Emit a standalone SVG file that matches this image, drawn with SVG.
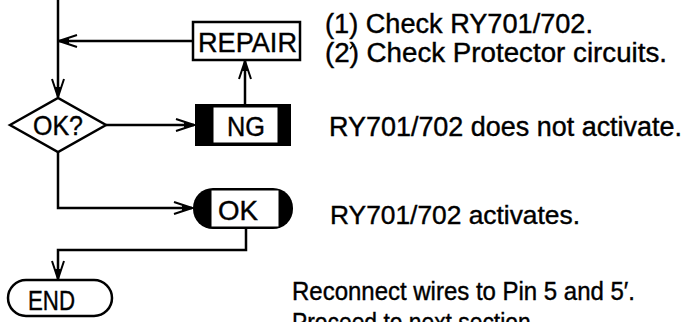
<svg xmlns="http://www.w3.org/2000/svg" width="689" height="322" viewBox="0 0 689 322">
<style>
.ln{fill:none;stroke:#000;stroke-width:2.5}
.box{fill:#fff;stroke:#000;stroke-width:2.5}
.t{font-family:"Liberation Sans",Arial,sans-serif;font-size:27px;fill:#000;stroke:#000;stroke-width:0.4}
.lab{font-family:"Liberation Sans",Arial,sans-serif;font-size:28px;fill:#000;stroke:#000;stroke-width:0.4}
</style>
<defs>
<marker id="ar" viewBox="-20 -8 22 16" refX="0" refY="0" markerWidth="22" markerHeight="16" markerUnits="userSpaceOnUse" orient="auto">
<path d="M-18,-6 L0,0 L-18,6" fill="none" stroke="#000" stroke-width="2"/>
<path d="M0,0 L-10,-3 L-10,3 Z" fill="#000"/>
</marker>
</defs>
<rect width="689" height="322" fill="#fff"/>
<g id="connectors">
<path class="ln" d="M58,0 V97" marker-end="url(#ar)"/>
<path class="ln" d="M193,41 H59" marker-end="url(#ar)"/>
<path class="ln" d="M106,125 H194" marker-end="url(#ar)"/>
<path class="ln" d="M245,104 V61" marker-end="url(#ar)"/>
<path class="ln" d="M58,152 V208 H192" marker-end="url(#ar)"/>
<path class="ln" d="M246,229 V250 H58 V279" marker-end="url(#ar)"/>
</g>
<g id="repair">
<rect class="box" x="193" y="22" width="107" height="38"/>
<text class="lab" x="198" y="52" textLength="99" lengthAdjust="spacingAndGlyphs">REPAIR</text>
</g>
<g id="decision">
<polygon class="box" points="10,125 58,98 106,125 58,152"/>
<text class="lab" x="33" y="135" textLength="50" lengthAdjust="spacingAndGlyphs">OK?</text>
</g>
<g id="ng">
<rect x="195" y="104" width="96" height="42" fill="#000"/>
<rect x="213" y="107" width="65" height="36" fill="#fff" stroke="#000" stroke-width="1"/>
<text class="lab" x="227" y="136" textLength="38" lengthAdjust="spacingAndGlyphs">NG</text>
</g>
<g id="ok">
<rect x="193" y="188" width="100" height="41" rx="20" fill="#000"/>
<rect x="211" y="190" width="68" height="37" fill="#fff" stroke="#000" stroke-width="1"/>
<text class="lab" x="218" y="220" textLength="40" lengthAdjust="spacingAndGlyphs">OK</text>
</g>
<g id="end">
<rect class="box" x="8" y="280" width="104" height="36" rx="18"/>
<text class="lab" x="28" y="310" textLength="47" lengthAdjust="spacingAndGlyphs">END</text>
</g>
<g id="notes">
<text class="t" x="325" y="33" textLength="268" lengthAdjust="spacingAndGlyphs">(1) Check RY701/702.</text>
<text class="t" x="325" y="62" textLength="342" lengthAdjust="spacingAndGlyphs">(2) Check Protector circuits.</text>
<path d="M350,49 L354,44" stroke="#000" stroke-width="1.5" fill="none"/>
<text class="t" x="329" y="136" textLength="353" lengthAdjust="spacingAndGlyphs">RY701/702 does not activate.</text>
<text class="t" x="330" y="224" style="font-size:26px" textLength="250" lengthAdjust="spacingAndGlyphs">RY701/702 activates.</text>
<text class="t" x="292" y="300" style="font-size:25px" textLength="343" lengthAdjust="spacingAndGlyphs">Reconnect wires to Pin 5 and 5′.</text>
<text class="t" x="292" y="331" style="font-size:25px" textLength="245" lengthAdjust="spacingAndGlyphs">Proceed to next section.</text>
</g>
</svg>
